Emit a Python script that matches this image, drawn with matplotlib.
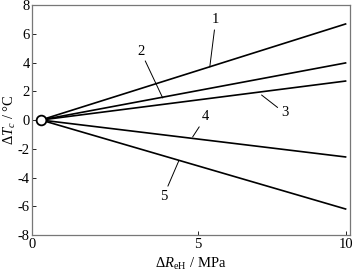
import matplotlib.pyplot as plt

plt.rcParams["font.family"] = ["Liberation Serif", "DejaVu Serif"]
plt.rcParams["mathtext.fontset"] = "custom"
plt.rcParams["mathtext.rm"] = "Liberation Serif"
plt.rcParams["mathtext.it"] = "Liberation Serif:italic"

# line endpoints: all curves start at the origin marker
x_start = -0.3
x_end = 10.0
curve_ids = ["1", "2", "3", "4", "5"]
dT_end = [6.68, 3.97, 2.71, -2.57, -6.19]

# label text position and leader end point (data coords)
label_xy = [(5.61, 6.96), (3.07, 4.80), (7.94, 0.49), (5.27, 0.21), (3.85, -5.29)]
leader_xy = [(5.41, 3.69), (3.82, 1.53), (7.16, 1.74), (4.83, -1.18), (4.36, -2.85)]

y_ticks = [-8, -6, -4, -2, 0, 2, 4, 6, 8]
x_ticks = [-0.6, 5, 10]
x_ticklabels = ["0", "5", "10"]

fs = 10.5

fig = plt.figure(figsize=(3.54, 2.72), dpi=100)
ax = fig.add_axes([0.0904, 0.136, 0.8983, 0.8456])

for end in dT_end:
    ax.plot([x_start, x_end], [0, end], color="black", linewidth=1.2, zorder=2)

ax.plot([x_start], [0], marker="o", markersize=7, markerfacecolor="white",
        markeredgecolor="black", markeredgewidth=1.3, zorder=3)

for cid, (tx, ty), (lx, ly) in zip(curve_ids, label_xy, leader_xy):
    ax.annotate(cid, xy=(lx, ly), xytext=(tx, ty), ha="center", va="center",
                fontsize=fs,
                arrowprops=dict(arrowstyle="-", color="black", linewidth=0.7,
                                shrinkA=0.5, shrinkB=0))

ax.set_xlim(-0.6, 10.15)
ax.set_ylim(-8, 8)
ax.set_xticks(x_ticks)
ax.set_xticklabels(x_ticklabels)
ax.set_yticks(y_ticks)
ax.set_yticklabels([str(v) for v in y_ticks])
ax.tick_params(direction="in", length=3, width=0.6, labelsize=fs, pad=1.5)
ax.tick_params(axis="x", pad=2.5)
for sp in ax.spines.values():
    sp.set_color("#777777")
    sp.set_linewidth(0.9)

ax.set_xlabel(r"$\Delta R_{\rm eH}$ / MPa", fontsize=fs, labelpad=3)
ax.set_ylabel(r"$\Delta T_{c}$ / °C", fontsize=fs, labelpad=0)

fig.savefig("out.png", dpi=100)
